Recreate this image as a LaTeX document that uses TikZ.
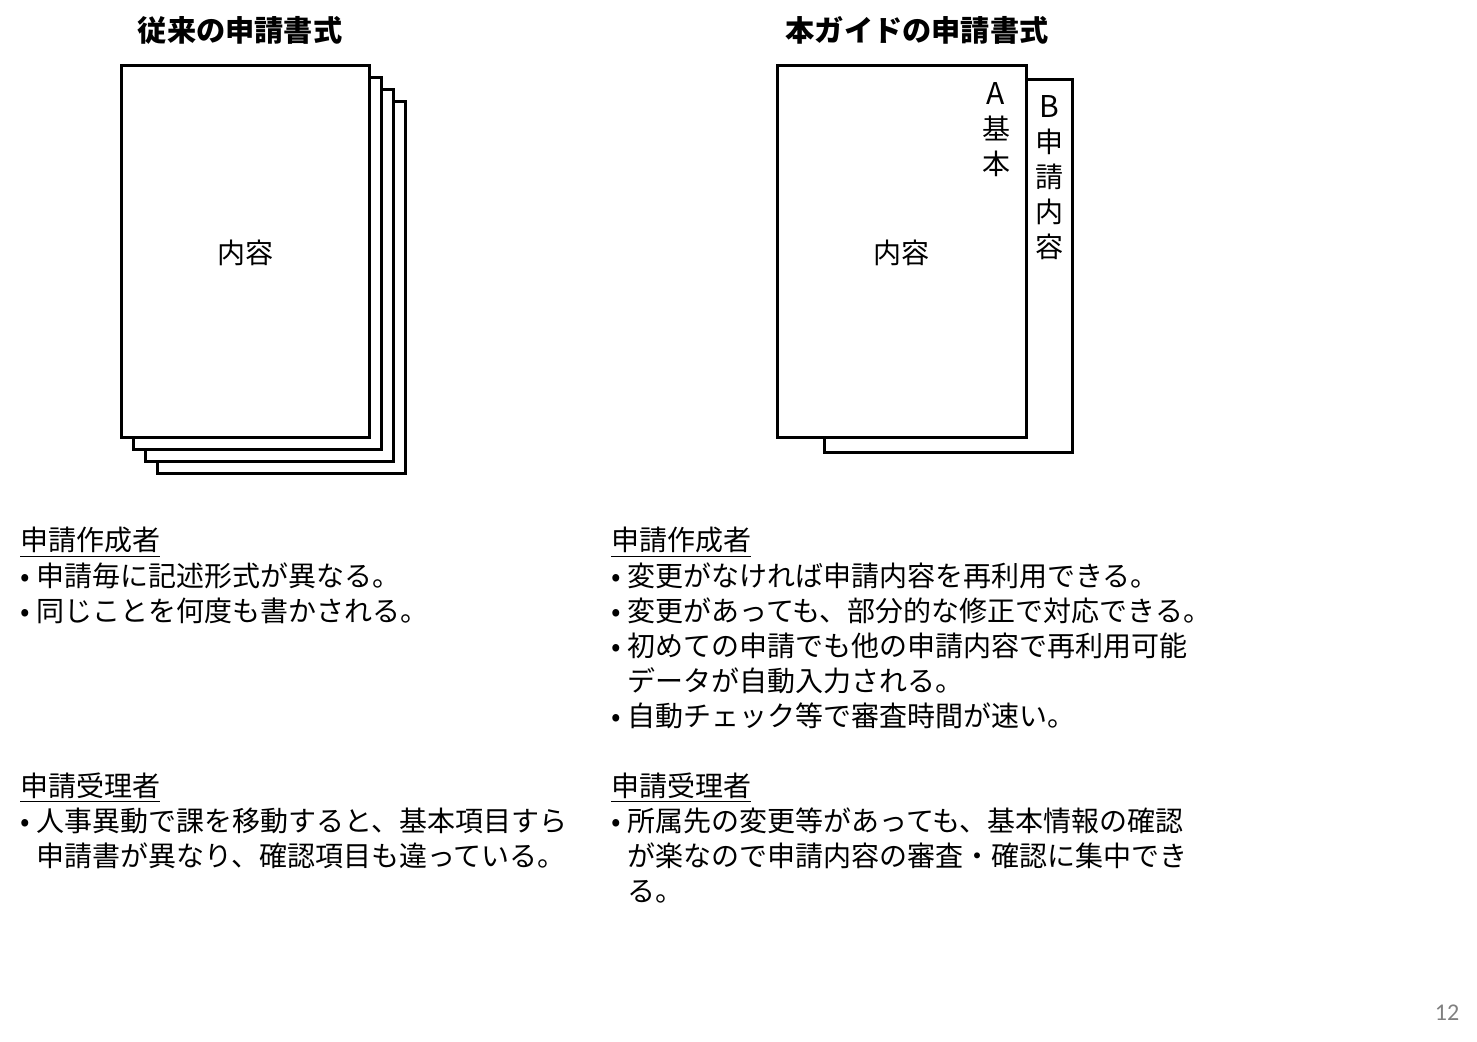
\documentclass[tikz,border=0pt]{standalone}
\usepackage{fontspec}
\setmainfont{Noto Sans CJK JP}
\newfontfamily\pagenofont{Carlito}
\usetikzlibrary{positioning}
\tikzset{
  sheet/.style={draw, line width=1.5pt, fill=white},
  txt/.style={anchor=base west, inner sep=0pt, font=\fontsize{14}{17}\selectfont},
  title/.style={inner sep=0pt, font=\fontsize{14.6}{17}\selectfont\bfseries},
  tate/.style={inner sep=0pt, font=\fontsize{14}{17.5}\selectfont}
}
\begin{document}
\begin{tikzpicture}[x=0.5pt, y=-0.5pt]
      \useasboundingbox (0,0) rectangle (1477,1042);
      % Titles
      \node[title] (tleft) at (240,30) {従来の申請書式};
      \node[title] (tright) at (917,30) {本ガイドの申請書式};
      % Old form: stack of sheets
      \foreach \i in {3,2,1,0}
        \draw[sheet] (121+12*\i, 66+12*\i) rectangle (369+12*\i, 438+12*\i);
      \node[tate] (oldbody) at (245,253) {内容};
      % New form: A on top of B
      \draw[sheet] (824,80) rectangle (1072,453);
      \draw[sheet] (777,66) rectangle (1026,438);
      \node[tate] (newbody) at (901,253) {内容};
      \node[tate, align=center] (tabA) at (996,130) {\fontsize{15}{17}\selectfont A\\基\\本};
      \node[tate, align=center] (tabB) at (1049,178) {\fontsize{15}{17.5}\selectfont B\\申\\請\\内\\容};
      % Left column
      \node[txt] (lh1) at (20,551) {\underline{申請作成者}};
      \node[txt] (lb1) at (20,586) {•};
      \node[txt] (lt1) at (36,586) {申請毎に記述形式が異なる。};
      \node[txt] (lb2) at (20,621) {•};
      \node[txt] (lt2) at (36,621) {同じことを何度も書かされる。};
      \node[txt] (lh2) at (20,796) {\underline{申請受理者}};
      \node[txt] (lb3) at (20,831) {•};
      \node[txt] (lt3) at (36,831) {人事異動で課を移動すると、基本項目すら};
      \node[txt] (lt4) at (36,866) {申請書が異なり、確認項目も違っている。};
      % Right column
      \node[txt] (rh1) at (611,551) {\underline{申請作成者}};
      \node[txt] (rb1) at (611,586) {•};
      \node[txt] (rt1) at (627,586) {変更がなければ申請内容を再利用できる。};
      \node[txt] (rb2) at (611,621) {•};
      \node[txt] (rt2) at (627,621) {変更があっても、部分的な修正で対応できる。};
      \node[txt] (rb3) at (611,656) {•};
      \node[txt] (rt3) at (627,656) {初めての申請でも他の申請内容で再利用可能};
      \node[txt] (rt4) at (627,691) {データが自動入力される。};
      \node[txt] (rb4) at (611,726) {•};
      \node[txt] (rt5) at (627,726) {自動チェック等で審査時間が速い。};
      \node[txt] (rh2) at (611,796) {\underline{申請受理者}};
      \node[txt] (rb5) at (611,831) {•};
      \node[txt] (rt6) at (627,831) {所属先の変更等があっても、基本情報の確認};
      \node[txt] (rt7) at (627,866) {が楽なので申請内容の審査・確認に集中でき};
      \node[txt] (rt8) at (627,901) {る。};
      % Page number
      \node[inner sep=0pt, text=gray, font=\pagenofont\fontsize{12}{14}\selectfont] (pageno) at (1447,1013) {12};
    \end{tikzpicture}
\end{document}
